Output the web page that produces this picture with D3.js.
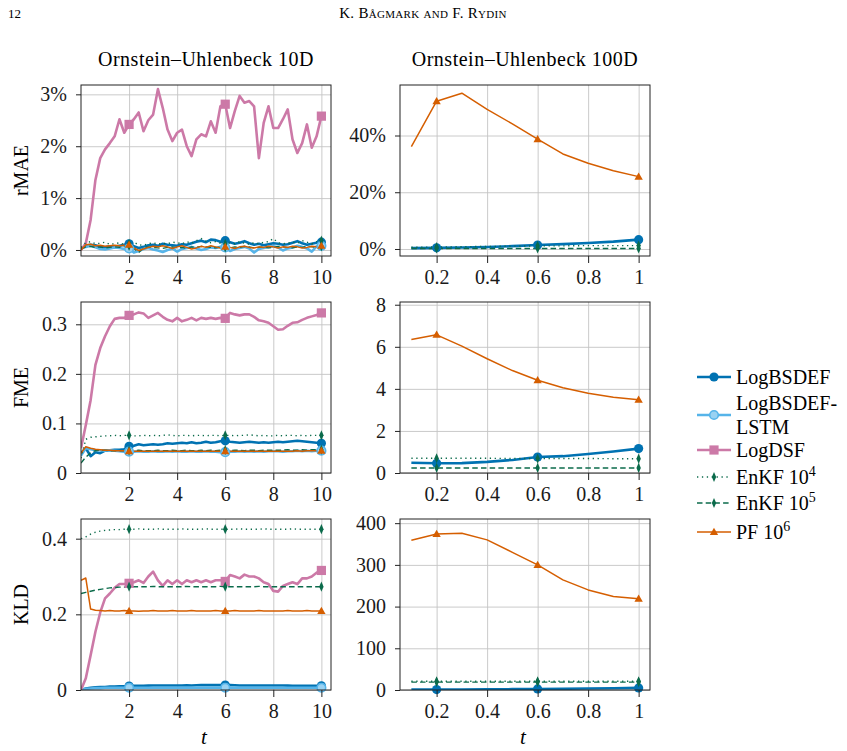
<!DOCTYPE html>
<html>
<head>
<meta charset="utf-8">
<script src="https://cdn.jsdelivr.net/npm/d3@7"></script>
<style>
body { margin: 0; background: #fff; }
text { font-family: "Liberation Serif", "DejaVu Serif", serif !important; }
.grid line { stroke: #c4c4c4; stroke-width: 0.9; }
.grid path { display: none; }
.ax path { display: none; }
.ax line { stroke: #222; }
.ax text { font-size: 20px; fill: #1a1a1a; }
</style>
</head>
<body>
<svg id="fig" width="847" height="751"></svg>
<script>
// ---- data ----
const tLeft = [0, 0.2, 0.4, 0.6, 0.8, 1, 1.2, 1.4, 1.6, 1.8,
  2, 2.2, 2.4, 2.6, 2.8, 3, 3.2, 3.4, 3.6, 3.8,
  4, 4.2, 4.4, 4.6, 4.8, 5, 5.2, 5.4, 5.6, 5.8,
  6, 6.2, 6.4, 6.6, 6.8, 7, 7.2, 7.4, 7.6, 7.8,
  8, 8.2, 8.4, 8.6, 8.8, 9, 9.2, 9.4, 9.6, 9.8, 10];
const tRight = [0.1, 0.2, 0.3, 0.4, 0.5, 0.6, 0.7, 0.8, 0.9, 1];

const methods = ["LogBSDEF", "LogBSDEF-LSTM", "LogDSF", "EnKF4", "EnKF5", "PF"];

// rMAE 10D (%)
const rmaeBSDEF10 = [0.02, 0.08, 0.10, 0.09, 0.06, 0.05, 0.07, 0.06, 0.08, 0.10,
  0.12, 0.07, 0.04, 0.06, 0.09, 0.10, 0.08, 0.12, 0.10, 0.09,
  0.08, 0.11, 0.10, 0.13, 0.16, 0.18, 0.15, 0.20, 0.19, 0.16,
  0.18, 0.15, 0.12, 0.14, 0.17, 0.13, 0.10, 0.12, 0.09, 0.11,
  0.13, 0.12, 0.10, 0.11, 0.14, 0.17, 0.13, 0.10, 0.12, 0.14, 0.15];
const rmaeLSTM10 = [0.03, 0.06, 0.08, 0.05, 0.02, 0.01, 0.03, 0.05, 0.04, 0.02,
  0.03, -0.05, -0.02, 0.02, 0.04, 0.01, -0.01, -0.04, 0.00, 0.03,
  -0.03, 0.02, 0.04, 0.06, 0.03, 0.00, 0.02, 0.05, 0.04, 0.06,
  0.05, -0.02, 0.02, 0.04, 0.06, 0.03, -0.05, 0.02, 0.04, 0.06,
  0.07, 0.05, -0.01, 0.03, 0.05, 0.08, 0.06, 0.03, -0.03, 0.07, 0.08];
const rmaeDSF10 = [0, 0.13, 0.58, 1.35, 1.77, 1.94, 2.06, 2.19, 2.52, 2.26,
  2.42, 2.52, 2.65, 2.29, 2.50, 2.61, 3.10, 2.74, 2.32, 2.10,
  2.26, 2.32, 2.00, 1.81, 2.13, 2.23, 2.19, 2.48, 2.26, 2.77,
  2.81, 2.35, 2.68, 2.97, 2.84, 2.87, 2.77, 1.77, 2.45, 2.77,
  2.35, 2.35, 2.52, 2.71, 2.13, 1.87, 2.06, 2.42, 1.97, 2.19, 2.58];
const rmaeEnKF4_10 = [0.05, 0.14, 0.16, 0.12, 0.13, 0.15, 0.11, 0.12, 0.14, 0.10,
  0.12, 0.15, 0.10, 0.09, 0.12, 0.14, 0.11, 0.13, 0.12, 0.15,
  0.14, 0.12, 0.16, 0.13, 0.18, 0.22, 0.17, 0.14, 0.16, 0.13,
  0.12, 0.14, 0.12, 0.16, 0.13, 0.11, 0.14, 0.12, 0.15, 0.16,
  0.22, 0.14, 0.12, 0.13, 0.15, 0.13, 0.18, 0.15, 0.12, 0.16, 0.18];
const rmaeEnKF5_10 = [0.02, 0.06, 0.07, 0.05, 0.06, 0.04, 0.05, 0.06, 0.05, 0.07,
  0.08, 0.03, -0.05, 0.04, 0.06, 0.05, 0.04, 0.03, 0.05, 0.06,
  0.04, 0.05, 0.03, 0.06, 0.05, 0.07, 0.06, 0.05, 0.04, 0.06,
  0.05, 0.04, 0.06, 0.05, 0.07, 0.06, 0.04, 0.05, 0.06, 0.04,
  0.05, 0.07, 0.06, 0.05, 0.04, 0.06, 0.05, 0.07, 0.06, 0.05, 0.07];
const rmaePF10 = [0.00, 0.10, 0.11, 0.08, 0.09, 0.07, 0.08, 0.09, 0.08, 0.09,
  0.10, 0.04, -0.01, 0.02, 0.05, 0.07, 0.06, 0.08, 0.06, 0.03,
  0.06, 0.08, 0.05, 0.02, 0.04, 0.07, 0.05, 0.08, 0.06, 0.04,
  0.06, 0.05, 0.03, 0.06, 0.07, 0.05, 0.04, 0.06, 0.05, 0.07,
  0.06, 0.04, 0.06, 0.05, 0.07, 0.06, 0.04, 0.05, 0.07, 0.06, 0.08];

// FME 10D
const fmeBSDEF10 = [0.040, 0.050, 0.034, 0.042, 0.040, 0.045, 0.046, 0.047, 0.047, 0.048,
  0.054, 0.055, 0.058, 0.056, 0.057, 0.058, 0.057, 0.058, 0.060, 0.059,
  0.060, 0.061, 0.060, 0.062, 0.060, 0.061, 0.063, 0.061, 0.062, 0.064,
  0.065, 0.063, 0.062, 0.061, 0.062, 0.063, 0.062, 0.061, 0.062, 0.061,
  0.062, 0.063, 0.062, 0.063, 0.064, 0.065, 0.064, 0.063, 0.062, 0.061, 0.060];
const fmeLSTM10 = [0.035, 0.050, 0.048, 0.046, 0.046, 0.045, 0.046, 0.045, 0.044, 0.043,
  0.043, 0.043, 0.044, 0.043, 0.043, 0.044, 0.043, 0.043, 0.044, 0.043,
  0.044, 0.043, 0.043, 0.044, 0.043, 0.043, 0.044, 0.043, 0.043, 0.042,
  0.042, 0.043, 0.043, 0.044, 0.043, 0.044, 0.043, 0.044, 0.043, 0.044,
  0.044, 0.044, 0.043, 0.044, 0.044, 0.045, 0.044, 0.045, 0.044, 0.045, 0.045];
const fmeDSF10 = [0.050, 0.097, 0.147, 0.218, 0.252, 0.276, 0.296, 0.311, 0.313, 0.313,
  0.318, 0.320, 0.324, 0.322, 0.313, 0.318, 0.323, 0.315, 0.309, 0.306,
  0.313, 0.306, 0.309, 0.313, 0.308, 0.313, 0.311, 0.313, 0.311, 0.313,
  0.312, 0.323, 0.320, 0.318, 0.320, 0.320, 0.315, 0.308, 0.306, 0.303,
  0.296, 0.289, 0.290, 0.297, 0.303, 0.304, 0.309, 0.313, 0.316, 0.319, 0.323];
const fmeEnKF4_10 = [0.030, 0.068, 0.072, 0.073, 0.074, 0.075, 0.075, 0.076, 0.075, 0.076,
  0.076, 0.075, 0.075, 0.076, 0.075, 0.076, 0.075, 0.076, 0.077, 0.076,
  0.075, 0.076, 0.076, 0.075, 0.076, 0.076, 0.075, 0.076, 0.076, 0.075,
  0.076, 0.076, 0.075, 0.076, 0.076, 0.077, 0.076, 0.075, 0.076, 0.075,
  0.075, 0.076, 0.075, 0.076, 0.076, 0.075, 0.076, 0.075, 0.076, 0.076, 0.076];
const fmeEnKF5_10 = [0.020, 0.032, 0.041, 0.045, 0.046, 0.046, 0.045, 0.045, 0.045, 0.045,
  0.045, 0.045, 0.046, 0.045, 0.045, 0.045, 0.046, 0.045, 0.045, 0.046,
  0.045, 0.045, 0.046, 0.045, 0.045, 0.046, 0.045, 0.046, 0.045, 0.046,
  0.046, 0.045, 0.046, 0.046, 0.045, 0.046, 0.046, 0.045, 0.046, 0.046,
  0.046, 0.046, 0.046, 0.047, 0.046, 0.046, 0.047, 0.046, 0.047, 0.047, 0.047];
const fmePF10 = [0.040, 0.053, 0.050, 0.048, 0.047, 0.046, 0.046, 0.045, 0.045, 0.045,
  0.044, 0.044, 0.044, 0.044, 0.044, 0.044, 0.044, 0.044, 0.044, 0.044,
  0.044, 0.044, 0.044, 0.044, 0.044, 0.044, 0.044, 0.044, 0.044, 0.044,
  0.044, 0.044, 0.044, 0.044, 0.044, 0.044, 0.044, 0.044, 0.044, 0.044,
  0.044, 0.044, 0.044, 0.044, 0.044, 0.045, 0.044, 0.045, 0.045, 0.045, 0.045];

// KLD 10D
const kldBSDEF10 = [0.000, 0.004, 0.006, 0.007, 0.008, 0.008, 0.009, 0.009, 0.010, 0.010,
  0.0105, 0.011, 0.011, 0.011, 0.0115, 0.012, 0.012, 0.012, 0.012, 0.012,
  0.012, 0.012, 0.0125, 0.012, 0.0125, 0.013, 0.013, 0.013, 0.013, 0.013,
  0.013, 0.013, 0.0125, 0.012, 0.012, 0.012, 0.012, 0.012, 0.012, 0.012,
  0.012, 0.012, 0.012, 0.0115, 0.011, 0.011, 0.011, 0.011, 0.011, 0.011, 0.011];
const kldLSTM10 = [0.000, 0.003, 0.004, 0.005, 0.005, 0.006, 0.006, 0.006, 0.006, 0.006,
  0.006, 0.006, 0.006, 0.006, 0.006, 0.006, 0.006, 0.006, 0.006, 0.006,
  0.006, 0.006, 0.006, 0.006, 0.006, 0.006, 0.006, 0.006, 0.006, 0.006,
  0.006, 0.006, 0.006, 0.006, 0.006, 0.006, 0.006, 0.006, 0.006, 0.006,
  0.006, 0.006, 0.006, 0.006, 0.006, 0.006, 0.006, 0.006, 0.006, 0.006, 0.006];
const kldDSF10 = [0.000, 0.031, 0.092, 0.154, 0.205, 0.242, 0.255, 0.270, 0.280, 0.280,
  0.282, 0.285, 0.290, 0.283, 0.300, 0.313, 0.290, 0.275, 0.290, 0.280,
  0.290, 0.280, 0.290, 0.285, 0.290, 0.285, 0.290, 0.285, 0.290, 0.290,
  0.287, 0.304, 0.300, 0.295, 0.305, 0.300, 0.300, 0.295, 0.285, 0.280,
  0.262, 0.260, 0.275, 0.280, 0.285, 0.280, 0.295, 0.295, 0.300, 0.310, 0.316];
const kldEnKF4_10 = [0.400, 0.405, 0.412, 0.417, 0.420, 0.422, 0.423, 0.424, 0.424, 0.425,
  0.425, 0.425, 0.426, 0.425, 0.425, 0.425, 0.426, 0.425, 0.425, 0.425,
  0.425, 0.426, 0.425, 0.425, 0.425, 0.425, 0.426, 0.425, 0.425, 0.425,
  0.425, 0.425, 0.425, 0.426, 0.425, 0.425, 0.425, 0.425, 0.426, 0.425,
  0.425, 0.425, 0.425, 0.425, 0.426, 0.425, 0.425, 0.425, 0.425, 0.425, 0.425];
const kldEnKF5_10 = [0.255, 0.258, 0.261, 0.264, 0.266, 0.268, 0.270, 0.271, 0.272, 0.272,
  0.273, 0.273, 0.273, 0.273, 0.273, 0.274, 0.273, 0.273, 0.273, 0.273,
  0.273, 0.273, 0.274, 0.273, 0.273, 0.273, 0.273, 0.273, 0.273, 0.274,
  0.273, 0.273, 0.273, 0.273, 0.273, 0.273, 0.273, 0.274, 0.273, 0.273,
  0.273, 0.273, 0.273, 0.273, 0.273, 0.273, 0.273, 0.273, 0.273, 0.273, 0.273];
const kldPF10 = [0.290, 0.296, 0.214, 0.211, 0.210, 0.209, 0.210, 0.209, 0.209, 0.210,
  0.209, 0.209, 0.208, 0.209, 0.209, 0.210, 0.209, 0.209, 0.209, 0.210,
  0.209, 0.209, 0.209, 0.210, 0.209, 0.209, 0.209, 0.209, 0.210, 0.209,
  0.209, 0.209, 0.210, 0.209, 0.209, 0.209, 0.209, 0.210, 0.209, 0.209,
  0.209, 0.209, 0.209, 0.210, 0.209, 0.209, 0.209, 0.210, 0.209, 0.209, 0.209];

// 100D
const rmaeBSDEF100 = [0.3, 0.4, 0.5, 0.7, 1.0, 1.4, 1.7, 2.1, 2.6, 3.3];
const rmaeEnKF4_100 = [0.6, 0.7, 0.8, 0.9, 1.0, 1.1, 1.1, 1.2, 1.2, 1.2];
const rmaeEnKF5_100 = [0.2, 0.2, 0.2, 0.2, 0.2, 0.2, 0.2, 0.2, 0.2, 0.2];
const rmaePF100 = [36.1, 52.1, 54.9, 49.2, 44.1, 38.7, 33.5, 30.2, 27.6, 25.5];

const fmeBSDEF100 = [0.49, 0.46, 0.47, 0.53, 0.62, 0.76, 0.80, 0.90, 1.02, 1.16];
const fmeEnKF4_100 = [0.70, 0.70, 0.70, 0.70, 0.69, 0.69, 0.69, 0.69, 0.68, 0.68];
const fmeEnKF5_100 = [0.24, 0.24, 0.24, 0.24, 0.24, 0.24, 0.24, 0.24, 0.24, 0.24];
const fmePF100 = [6.35, 6.57, 6.03, 5.43, 4.87, 4.41, 4.05, 3.79, 3.60, 3.48];

const kldBSDEF100 = [1, 1, 1.2, 1.5, 2, 2.5, 3, 3.5, 4.2, 5];
const kldEnKF4_100 = [21, 21, 21, 21, 21, 21, 21, 21, 21, 21];
const kldEnKF5_100 = [19, 19, 19, 19, 19, 19, 19, 19, 19, 19];
const kldPF100 = [359, 374, 376, 360, 330, 300, 264, 240, 224, 219];

const leftXTicks = [2, 4, 6, 8, 10];
const rightXTicks = [0.2, 0.4, 0.6, 0.8, 1];
const markLeft = [2, 6, 10];
const markRight = [0.2, 0.6, 1];

// ---- styles ----
const style = {
  "LogBSDEF":      { color: "#0072b2", width: 2.6, dash: null, mark: "circle" },
  "LogBSDEF-LSTM": { color: "#56b4e9", width: 2.6, dash: null, mark: "ring" },
  "LogDSF":        { color: "#cc79a7", width: 2.6, dash: null, mark: "square" },
  "EnKF4":         { color: "#0b6b4b", width: 1.4, dash: "1.3,3.6", mark: "diamond" },
  "EnKF5":         { color: "#0b6b4b", width: 1.4, dash: "5.5,3.2", mark: "diamond" },
  "PF":            { color: "#d55e00", width: 1.5, dash: null, mark: "triangle" }
};

const colX = [81, 400];
const plotW = 250;
const rowY = [85, 302, 519];
const plotH = 171;

const panels = [
  { row: 0, col: 0, t: tLeft, xd: [0, 10.4], yd: [-0.116, 3.18], yt: [0, 1, 2, 3], fmt: d => d + "%", marks: markLeft,
    data: [rmaeBSDEF10, rmaeLSTM10, rmaeDSF10, rmaeEnKF4_10, rmaeEnKF5_10, rmaePF10] },
  { row: 0, col: 1, t: tRight, xd: [0.055, 1.045], yd: [-2.47, 57.8], yt: [0, 20, 40], fmt: d => d + "%", marks: markRight,
    data: [rmaeBSDEF100, null, null, rmaeEnKF4_100, rmaeEnKF5_100, rmaePF100] },
  { row: 1, col: 0, t: tLeft, xd: [0, 10.4], yd: [0, 0.345], yt: [0, 0.1, 0.2, 0.3], fmt: d => d === 0 ? "0" : d.toFixed(1), marks: markLeft,
    data: [fmeBSDEF10, fmeLSTM10, fmeDSF10, fmeEnKF4_10, fmeEnKF5_10, fmePF10] },
  { row: 1, col: 1, t: tRight, xd: [0.055, 1.045], yd: [0, 8.13], yt: [0, 2, 4, 6, 8], fmt: d => d, marks: markRight,
    data: [fmeBSDEF100, null, null, fmeEnKF4_100, fmeEnKF5_100, fmePF100] },
  { row: 2, col: 0, t: tLeft, xd: [0, 10.4], yd: [0, 0.452], yt: [0, 0.2, 0.4], fmt: d => d === 0 ? "0" : d.toFixed(1), marks: markLeft,
    data: [kldBSDEF10, kldLSTM10, kldDSF10, kldEnKF4_10, kldEnKF5_10, kldPF10] },
  { row: 2, col: 1, t: tRight, xd: [0.055, 1.045], yd: [0, 410], yt: [0, 100, 200, 300, 400], fmt: d => d, marks: markRight,
    data: [kldBSDEF100, null, null, kldEnKF4_100, kldEnKF5_100, kldPF100] }
];

const svg = d3.select("#fig");
const defs = svg.append("defs");

function drawMarker(g, kind, color, x, y) {
  if (kind === "circle") {
    g.append("circle").attr("cx", x).attr("cy", y).attr("r", 4.6).attr("fill", color);
  } else if (kind === "ring") {
    g.append("circle").attr("cx", x).attr("cy", y).attr("r", 4.3)
      .attr("fill", "#9ad2f2").attr("stroke", color).attr("stroke-width", 1.6);
  } else if (kind === "square") {
    g.append("rect").attr("x", x - 4.6).attr("y", y - 4.6).attr("width", 9.2).attr("height", 9.2).attr("fill", color);
  } else if (kind === "diamond") {
    g.append("path").attr("d", d3.symbol().type(d3.symbolDiamond).size(30)())
      .attr("transform", `translate(${x},${y}) scale(0.75,1)`).attr("fill", color);
  } else if (kind === "triangle") {
    g.append("path").attr("d", d3.symbol().type(d3.symbolTriangle).size(30)())
      .attr("transform", `translate(${x},${y + 0.6})`).attr("fill", color);
  }
}

panels.forEach((p, pi) => {
  const x0 = colX[p.col], y0 = rowY[p.row];
  const g = svg.append("g").attr("transform", `translate(${x0},${y0})`);
  const x = d3.scaleLinear().domain(p.xd).range([0, plotW]);
  const y = d3.scaleLinear().domain(p.yd).range([plotH, 0]);
  const xt = p.col === 0 ? leftXTicks : rightXTicks;

  // grid
  g.append("g").attr("class", "grid").attr("transform", `translate(0,${plotH})`)
    .call(d3.axisBottom(x).tickValues(xt).tickSize(-plotH).tickFormat(""));
  g.append("g").attr("class", "grid")
    .call(d3.axisLeft(y).tickValues(p.yt).tickSize(-plotW).tickFormat(""));

  defs.append("clipPath").attr("id", "clip" + pi)
    .append("rect").attr("width", plotW).attr("height", plotH);

  const lines = g.append("g").attr("clip-path", `url(#clip${pi})`);
  const marks = g.append("g");

  methods.forEach((m, mi) => {
    const vals = p.data[mi];
    if (!vals) return;
    const s = style[m];
    const pts = p.t.map((t, i) => [t, vals[i]]);
    lines.append("path")
      .datum(pts)
      .attr("fill", "none")
      .attr("stroke", s.color)
      .attr("stroke-width", s.width)
      .attr("stroke-linejoin", "round")
      .attr("stroke-dasharray", s.dash)
      .attr("d", d3.line().x(d => x(d[0])).y(d => y(d[1])));
    pts.filter(d => p.marks.some(mv => Math.abs(mv - d[0]) < 1e-9))
      .forEach(d => drawMarker(marks, s.mark, s.color, x(d[0]), y(d[1])));
  });

  // axes
  g.append("g").attr("class", "ax").attr("transform", `translate(0,${plotH})`)
    .call(d3.axisBottom(x).tickValues(xt).tickSize(7).tickPadding(7).tickFormat(d => d));
  g.append("g").attr("class", "ax")
    .call(d3.axisLeft(y).tickValues(p.yt).tickSize(5).tickPadding(9).tickFormat(p.fmt));

  g.append("rect").attr("width", plotW).attr("height", plotH)
    .attr("fill", "none").attr("stroke", "#222").attr("stroke-width", 1);
});

// titles and labels
svg.append("text").attr("x", 8).attr("y", 18).attr("font-size", 13).text("12");
svg.append("text").attr("x", 423).attr("y", 18).attr("text-anchor", "middle")
  .attr("font-size", 15).attr("font-variant", "small-caps").attr("letter-spacing", 0.3)
  .text("K. Bågmark and F. Rydin");

svg.append("text").attr("x", colX[0] + plotW / 2).attr("y", 66).attr("text-anchor", "middle")
  .attr("font-size", 20).attr("letter-spacing", 0.5).text("Ornstein–Uhlenbeck 10D");
svg.append("text").attr("x", colX[1] + plotW / 2).attr("y", 66).attr("text-anchor", "middle")
  .attr("font-size", 20).attr("letter-spacing", 0.5).text("Ornstein–Uhlenbeck 100D");

const yLabels = ["rMAE", "FME", "KLD"];
yLabels.forEach((lab, i) => {
  svg.append("text")
    .attr("transform", `translate(28,${rowY[i] + plotH / 2}) rotate(-90)`)
    .attr("text-anchor", "middle").attr("font-size", 20).text(lab);
});

[0, 1].forEach(c => {
  svg.append("text").attr("x", colX[c] + plotW / 2 - 2).attr("y", 744)
    .attr("text-anchor", "middle").attr("font-size", 21).attr("font-style", "italic").text("t");
});

// legend
const legendItems = [
  { m: "LogBSDEF", y: 377, lines: ["LogBSDEF"] },
  { m: "LogBSDEF-LSTM", y: 415, lines: ["LogBSDEF-", "LSTM"] },
  { m: "LogDSF", y: 450, lines: ["LogDSF"] },
  { m: "EnKF4", y: 477, lines: ["EnKF 10"], sup: "4" },
  { m: "EnKF5", y: 503, lines: ["EnKF 10"], sup: "5" },
  { m: "PF", y: 532, lines: ["PF 10"], sup: "6" }
];
const leg = svg.append("g");
legendItems.forEach(it => {
  const s = style[it.m];
  leg.append("line").attr("x1", 697).attr("x2", 731).attr("y1", it.y).attr("y2", it.y)
    .attr("stroke", s.color).attr("stroke-width", s.width).attr("stroke-dasharray", s.dash);
  drawMarker(leg, s.mark, s.color, 714, it.y);
  if (it.lines.length === 2) {
    leg.append("text").attr("x", 736).attr("y", it.y - 5).attr("font-size", 20).text(it.lines[0]);
    leg.append("text").attr("x", 736).attr("y", it.y + 19).attr("font-size", 20).text(it.lines[1]);
  } else {
    const tx = leg.append("text").attr("x", 736).attr("y", it.y + 7).attr("font-size", 20).text(it.lines[0]);
    if (it.sup) tx.append("tspan").attr("dy", -8).attr("font-size", 14).text(it.sup);
  }
});
</script>
</body>
</html>
